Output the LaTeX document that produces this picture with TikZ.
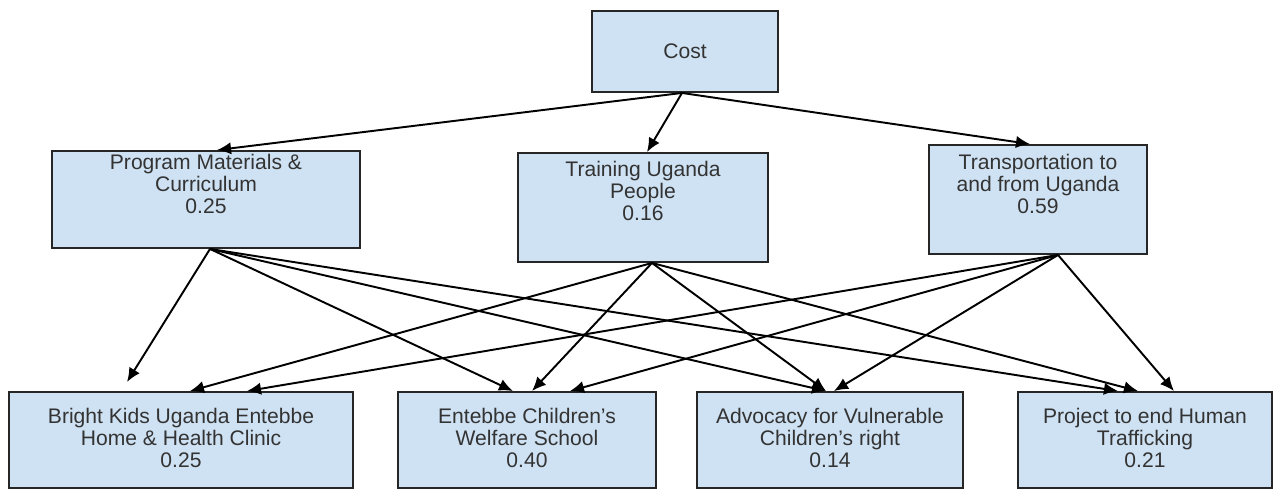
\documentclass[tikz,border=0pt]{standalone}
\usepackage{fontspec}
\setmainfont{Liberation Sans}
\usetikzlibrary{arrows.meta,calc}

\definecolor{boxblue}{HTML}{CFE2F3}

\begin{document}
\begin{tikzpicture}[x=0.02cm, y=-0.02cm,
  box/.style={draw=black!85, line width=1.1pt, fill=boxblue, inner sep=0pt},
  txt/.style={align=center, inner sep=0pt, text=black!80, font=\fontsize{12}{12.5}\selectfont},
  arr/.style={-{Latex[length=8pt,width=7pt]}, line width=1.1pt}]
\useasboundingbox (0,0) rectangle (1274,489);

% Goal
\node[box, txt, minimum width=3.72cm, minimum height=1.62cm] (cost) at (685,51.5) {Cost};

% Criteria (text placed by the baseline of its last line)
\node[box, minimum width=6.16cm, minimum height=1.94cm] (prog) at (206,199.5) {};
\node[box, minimum width=5.0cm, minimum height=2.18cm] (train) at (643,207.5) {};
\node[box, minimum width=4.36cm, minimum height=2.18cm] (trans) at (1038,199.5) {};
\node[txt, anchor=base] (prog-t) at ($(prog.north)+(0,63)$) {Program Materials \&\\Curriculum\\0.25};
\node[txt, anchor=base] (train-t) at ($(train.north)+(0,68)$) {Training Uganda\\People\\0.16};
\node[txt, anchor=base] (trans-t) at ($(trans.north)+(0,69)$) {Transportation to\\and from Uganda\\0.59};

% Alternatives
\node[box, minimum width=6.88cm, minimum height=1.92cm] (bk) at (181,440) {};
\node[box, minimum width=5.16cm, minimum height=1.92cm] (ent) at (527,440) {};
\node[box, minimum width=5.32cm, minimum height=1.92cm] (adv) at (830,440) {};
\node[box, minimum width=5.08cm, minimum height=1.92cm] (proj) at (1145,440) {};
\node[txt, anchor=base] (bk-t) at ($(bk.north)+(0,76)$) {Bright Kids Uganda Entebbe\\Home \& Health Clinic\\0.25};
\node[txt, anchor=base] (ent-t) at ($(ent.north)+(0,76)$) {Entebbe Children’s\\Welfare School\\0.40};
\node[txt, anchor=base] (adv-t) at ($(adv.north)+(0,76)$) {Advocacy for Vulnerable\\Children’s right\\0.14};
\node[txt, anchor=base] (proj-t) at ($(proj.north)+(0,76)$) {Project to end Human\\Trafficking\\0.21};

% Goal to criteria
\coordinate (cost-out) at ($(cost.south)+(-3,0)$);
\draw[arr] (cost-out) -- ($(prog.north)+(11,0)$);
\draw[arr] (cost-out) -- ($(train.north)+(4,0)$);
\draw[arr] (cost-out) -- ($(trans.north)+(-8,0)$);

% Criteria to alternatives
\coordinate (prog-out) at ($(prog.south)+(4,0)$);
\coordinate (train-out) at ($(train.south)+(9,0)$);
\coordinate (trans-out) at ($(trans.south)+(20,0)$);
\draw[arr] (prog-out) -- ($(bk.north)+(-54,-9)$);
\draw[arr] (prog-out) -- ($(ent.north)+(-14,0)$);
\draw[arr] (prog-out) -- ($(adv.north)+(-4,0)$);
\draw[arr] (prog-out) -- ($(proj.north)+(-27,0)$);
\draw[arr] (train-out) -- ($(bk.north)+(9,0)$);
\draw[arr] (train-out) -- ($(ent.north)+(5,0)$);
\draw[arr] (train-out) -- ($(adv.north)+(-4,0)$);
\draw[arr] (train-out) -- ($(proj.north)+(-7,0)$);
\draw[arr] (trans-out) -- ($(bk.north)+(66,0)$);
\draw[arr] (trans-out) -- ($(ent.north)+(43,0)$);
\draw[arr] (trans-out) -- ($(adv.north)+(4,0)$);
\draw[arr] (trans-out) -- ($(proj.north)+(29,0)$);
\end{tikzpicture}
\end{document}
